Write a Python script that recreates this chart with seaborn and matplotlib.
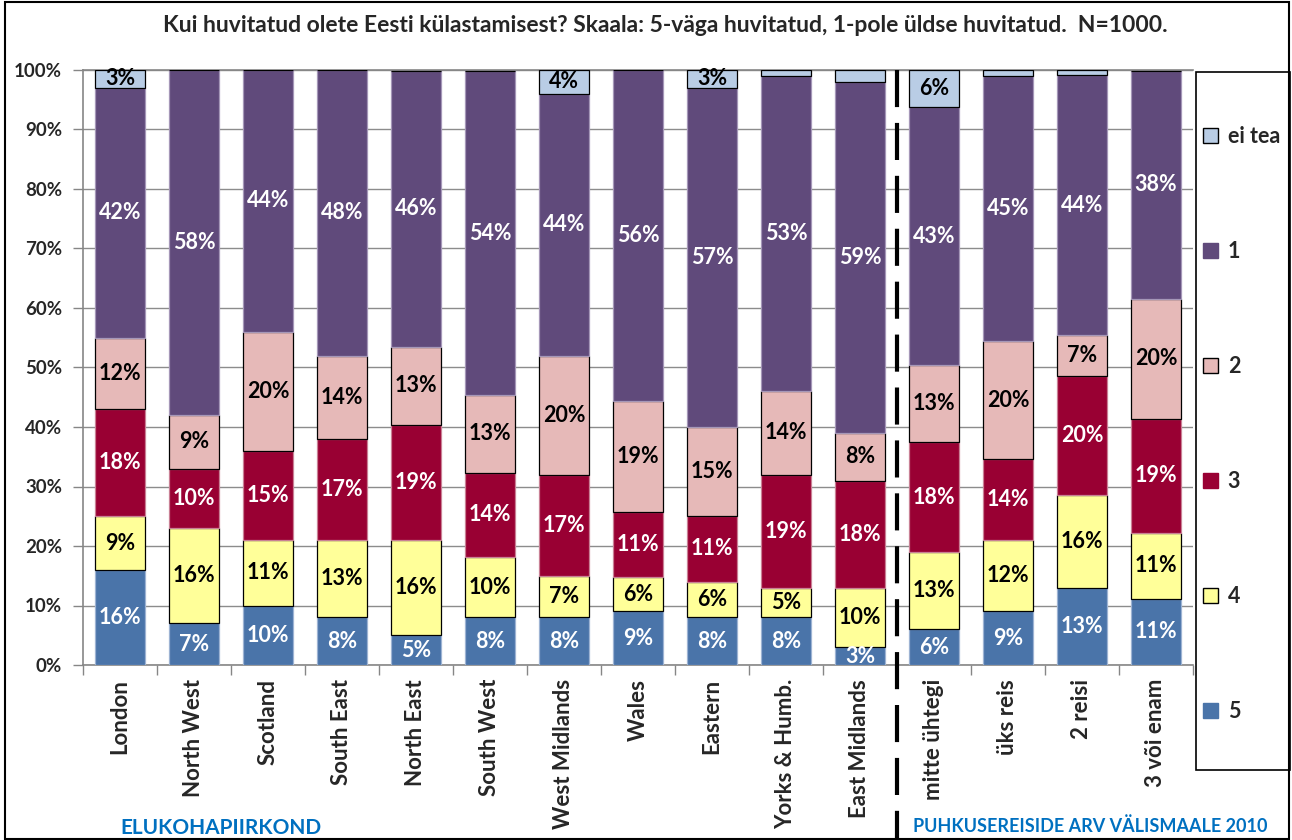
import numpy as np
import pandas as pd
import matplotlib
matplotlib.use("Agg")
import matplotlib.pyplot as plt
import seaborn as sns
from matplotlib.patches import Rectangle, Patch

# ---------------- data ----------------
categories = ["London", "North West", "Scotland", "South East", "North East",
              "South West", "West Midlands", "Wales", "Eastern", "Yorks & Humb.",
              "East Midlands", "mitte ühtegi", "üks reis", "2 reisi", "3 või enam"]
s5 = [16, 7, 10, 8, 5, 8, 8, 9, 8, 8, 3, 6, 9, 13, 11.1]
s4 = [9, 16, 11, 13, 16, 10.2, 7, 5.8, 6, 5, 10, 13, 12, 15.6, 11.1]
s3 = [18, 10, 15, 17, 19.3, 14.1, 17, 10.9, 11, 19, 18, 18.4, 13.6, 19.9, 19.2]
s2 = [12, 9, 20, 14, 13.2, 13.1, 20, 18.7, 15, 14, 8, 13, 19.8, 7, 20.1]
s1 = [42, 58, 44, 48, 46.4, 54.4, 44, 55.6, 57, 53, 59, 43.4, 44.6, 43.6, 38.4]
s_eitea = [3, 0, 0, 0, 0, 0, 4, 0, 3, 1, 2, 6.2, 1, 0.9, 0]
series_names = ["5", "4", "3", "2", "1", "ei tea"]
yticks = [0, 10, 20, 30, 40, 50, 60, 70, 80, 90, 100]
title = "Kui huvitatud olete Eesti külastamisest? Skaala: 5-väga huvitatud, 1-pole üldse huvitatud.  N=1000."
group_left = "ELUKOHAPIIRKOND"
group_right = "PUHKUSEREISIDE ARV VÄLISMAALE 2010"

colors = {"5": "#4A74A9", "4": "#FFFF99", "3": "#990033", "2": "#E6B9B8",
          "1": "#604A7B", "ei tea": "#B9CDE5"}
edges = {"5": "#9DB3D3", "4": "black", "3": "#C98095", "2": "black",
         "1": "#A597B8", "ei tea": "black"}
textcol = {"5": "white", "4": "black", "3": "white", "2": "black",
           "1": "white", "ei tea": "black"}

# ---------------- style ----------------
sns.set_style("white")
plt.rcParams['font.family'] = ['Lato', 'DejaVu Sans']
plt.rcParams['font.weight'] = 'bold'

W, H = 1292, 840
fig = plt.figure(figsize=(W / 100, H / 100), dpi=100)
ax = fig.add_axes([83 / W, 1 - 665 / H, (1193 - 83) / W, (665 - 70) / H])

values = [s5, s4, s3, s2, s1, s_eitea]
bottom = np.zeros(len(categories))
for name, vals in zip(series_names, values):
    df = pd.DataFrame({"cat": categories, "val": vals})
    sns.barplot(data=df, x="cat", y="val", order=categories, color=colors[name],
                saturation=1, bottom=bottom.copy(), width=0.68,
                edgecolor=edges[name], linewidth=0.9, ax=ax, errorbar=None, zorder=3)
    cont = ax.containers[-1]
    labels = [f"{round(v)}%" if v >= 2.5 else "" for v in vals]
    ax.bar_label(cont, labels=labels, label_type="center", color=textcol[name],
                 fontsize=15.5, fontweight="bold", zorder=4)
    bottom += np.array(vals, dtype=float)

ax.set_xlim(-0.5, len(categories) - 0.5)
ax.set_ylim(0, 100)
ax.set_yticks(yticks)
ax.set_yticklabels([f"{t}%" for t in yticks], fontsize=13.5, fontweight="bold")
ax.set_xlabel("")
ax.set_ylabel("")
ax.set_xticks(range(len(categories)))
ax.set_xticklabels(categories, rotation=90, fontsize=16, fontweight="bold")
ax.set_xticks(np.arange(-0.5, len(categories), 1), minor=True)
ax.tick_params(axis="x", which="major", length=0, pad=10)
ax.tick_params(axis="x", which="minor", length=7, bottom=True, color="#868686", width=1)
ax.tick_params(axis="y", which="major", length=7, left=True, color="#868686", width=1, pad=8)
ax.grid(axis="y", which="major", color="#8C8C8C", lw=1, zorder=0)
ax.grid(axis="x", visible=False)

for sp in ["left", "bottom", "top"]:
    ax.spines[sp].set_color("#868686")
    ax.spines[sp].set_linewidth(1.2)
ax.spines["right"].set_visible(False)

# dashed separator between groups
ax.plot([10.5, 10.5], [1, -0.3], transform=ax.get_xaxis_transform(), clip_on=False,
        color="black", lw=3, linestyle=(0, (8.9, 3.8)), solid_capstyle="butt", zorder=5)

# title and group captions
fig.text(665 / W, 1 - 25 / H, title, ha="center", va="center", fontsize=16.5,
         fontweight="bold")
fig.text(120 / W, 1 - 828 / H, group_left, ha="left", va="center", fontsize=15,
         fontweight="bold", color="#0070C0")
fig.text(913 / W, 1 - 826 / H, group_right, ha="left", va="center", fontsize=13,
         fontweight="bold", color="#0070C0")

# legend
fig.patches.append(Rectangle((1196 / W, 1 - 770 / H), 94 / W, (770 - 72) / H,
                             transform=fig.transFigure, fill=False, edgecolor="black",
                             lw=1.2))
handles = [Patch(facecolor=colors[n], edgecolor=("black" if edges[n] == "black" else colors[n]),
                 lw=1, label=n) for n in series_names[::-1]]
fig.legend(handles=handles, loc="upper left", bbox_to_anchor=(1203 / W, 1 - 126 / H),
           frameon=False, borderpad=0, borderaxespad=0, labelspacing=4.37,
           handlelength=0.7, handleheight=0.7, handletextpad=0.45,
           prop={"size": 15.5, "weight": "bold"})

# outer border
fig.patches.append(Rectangle((5 / W, 1 / H), (W - 8) / W, (H - 3) / H,
                             transform=fig.transFigure, fill=False, edgecolor="black",
                             lw=1.5))

fig.savefig("out.png", dpi=100)
